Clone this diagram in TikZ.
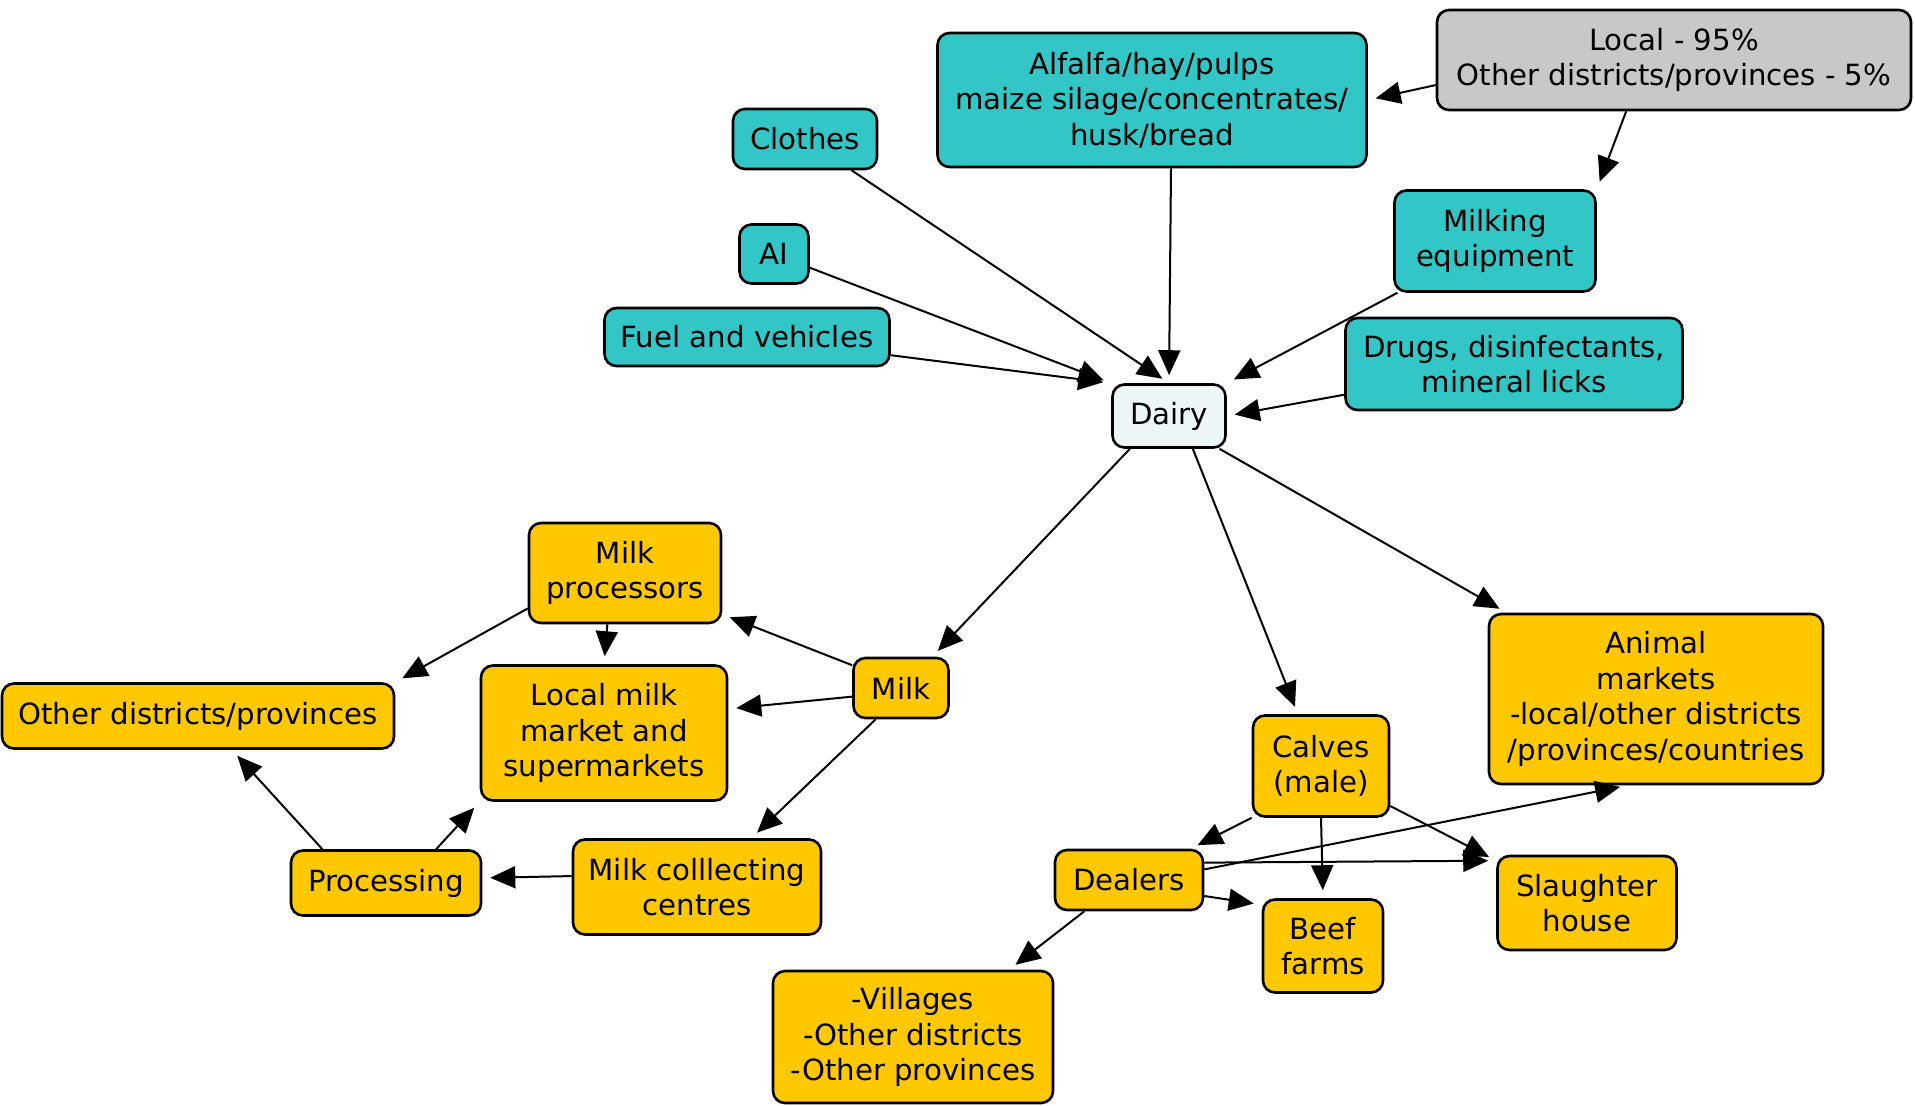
\documentclass[tikz,border=0pt]{standalone}
\usepackage{fontspec}
\setmainfont{DejaVu Sans}
\usepackage{tikz}
\usetikzlibrary{arrows.meta,positioning,calc}
\definecolor{cyanfill}{HTML}{33C6C6}
\definecolor{goldfill}{HTML}{FFC800}
\definecolor{greyfill}{HTML}{C8C8C8}
\definecolor{dairyfill}{HTML}{EEF5F7}

\begin{document}
\begin{tikzpicture}[
  x=0.5pt, y=-0.5pt,
  >={Triangle[length=12.5pt,width=11pt]},
  box/.style={draw=black, line width=1.3pt, rounded corners=6pt, align=center, inner sep=2pt, font=\fontsize{14.6}{17.7}\selectfont},
  inp/.style={box, fill=cyanfill},
  outp/.style={box, fill=goldfill},
  arr/.style={->, line width=1pt, shorten >=4pt}]
  \useasboundingbox (0,0) rectangle (1915,1105);
  \node[box, fill=greyfill, minimum width=237pt, minimum height=50pt] (src) at (1674,60) {Local - 95\%\\Other districts/provinces - 5\%};
  \node[inp, minimum width=214.5pt, minimum height=67pt] (alfalfa) at (1152,100) {Alfalfa/hay/pulps\\maize silage/concentrates/\\husk/bread};
  \node[inp, minimum width=72pt, minimum height=30pt] (clothes) at (805,139) {Clothes};
  \node[inp, minimum width=34.5pt, minimum height=29.5pt] (ai) at (774,254) {AI};
  \node[inp, minimum width=142.5pt, minimum height=29pt] (fuel) at (747,337) {Fuel and vehicles};
  \node[inp, minimum width=100.5pt, minimum height=50.5pt] (milking) at (1495,241) {Milking\\equipment};
  \node[inp, minimum width=168.5pt, minimum height=46pt] (drugs) at (1514,364) {Drugs, disinfectants,\\mineral licks};
  \node[box, fill=dairyfill, minimum width=56.5pt, minimum height=31.5pt] (dairy) at (1169,416) {Dairy};
  \node[outp, minimum width=96pt, minimum height=50pt] (proc) at (625,573) {Milk\\processors};
  \node[outp, minimum width=196pt, minimum height=32.5pt] (other) at (198,716) {Other districts/provinces};
  \node[outp, minimum width=123pt, minimum height=67.5pt] (market) at (604,733) {Local milk\\market and\\supermarkets};
  \node[outp, minimum width=47.5pt, minimum height=30pt] (milk) at (901,688) {Milk};
  \node[outp, minimum width=95pt, minimum height=32.5pt] (processing) at (386,883) {Processing};
  \node[outp, minimum width=124pt, minimum height=47.5pt] (collect) at (697,887) {Milk colllecting\\centres};
  \node[outp, minimum width=68pt, minimum height=50.5pt] (calves) at (1321,766) {Calves\\(male)};
  \node[outp, minimum width=167pt, minimum height=85pt] (animal) at (1656,699) {Animal\\markets\\-local/other districts\\/provinces/countries};
  \node[outp, minimum width=74pt, minimum height=30pt] (dealers) at (1129,880) {Dealers};
  \node[outp, minimum width=60pt, minimum height=46.5pt] (beef) at (1323,946) {Beef\\farms};
  \node[outp, minimum width=89.5pt, minimum height=47pt] (slaughter) at (1587,903) {Slaughter\\house};
  \node[outp, minimum width=140pt, minimum height=66pt] (villages) at (913,1037) {-Villages\\-Other districts\\-Other provinces};
  \draw[arr] (src.186) -- (alfalfa.east);
  \draw[arr] (src.-133) -- (milking.north east);
  \draw[arr] (clothes) -- (dairy.north);
  \draw[arr] ([xshift=1pt]alfalfa.south -| dairy.north) -- (dairy.north);
  \draw[arr] (ai) -- (dairy.north west);
  \draw[arr] (fuel) -- (dairy.north west);
  \draw[arr] (milking) -- (dairy.north east);
  \draw[arr] (drugs) -- (dairy.east);
  \draw[arr] (dairy.-140) -- (milk.45);
  \draw[arr] (dairy.-54) -- (calves.114);
  \draw[arr] (dairy.-33) -- (animal.150);
  \draw[arr] (milk.155) -- (proc.-23);
  \draw[arr] (milk.190) -- (market.11);
  \draw[arr] (milk.-129) -- (collect.42);
  \draw[arr] (proc.200) -- (other.north east);
  \draw[arr] (proc.-109) -- (market.north);
  \draw[arr] (collect.175) -- (processing.3);
  \draw[arr] (processing.152) -- (other.-45);
  \draw[arr] (processing.34) -- (market.south west);
  \draw[arr] (calves.south west) -- (dealers.27);
  \draw[arr] (calves.south) -- (beef.north);
  \draw[arr] (calves.-30) -- (slaughter.155);
  \draw[arr] (dealers.8) -- (animal.-108);
  \draw[arr] (dealers.13) -- (slaughter.155);
  \draw[arr] (dealers.-12) -- (beef.146);
  \draw[arr] (dealers.-145) -- (villages.35);
\end{tikzpicture}
\end{document}
